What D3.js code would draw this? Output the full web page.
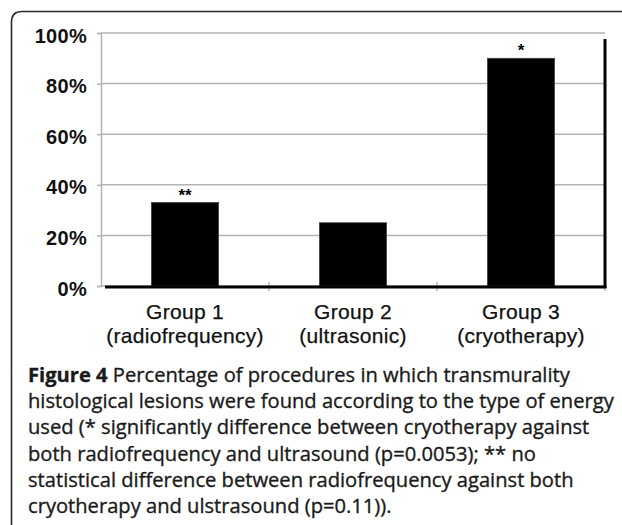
<!DOCTYPE html>
<html>
<head>
<meta charset="utf-8">
<script src="https://cdn.jsdelivr.net/npm/d3@7"></script>
<style>
  body { margin: 0; background: #fff; }
</style>
</head>
<body>
<div id="chart"></div>
<script>
// data
var groups = ["Group 1", "Group 2", "Group 3"];
var energies = ["(radiofrequency)", "(ultrasonic)", "(cryotherapy)"];
var percents = [0.33, 0.25, 0.90];
var marks = ["**", "", "*"];
var yTicks = [0, 0.2, 0.4, 0.6, 0.8, 1.0];
var captionBold = "Figure 4";
var captionLines = [
  " Percentage of procedures in which transmurality",
  "histological lesions were found according to the type of energy",
  "used (* significantly difference between cryotherapy against",
  "both radiofrequency and ultrasound (p=0.0053); ** no",
  "statistical difference between radiofrequency against both",
  "cryotherapy and ulstrasound (p=0.11))."
];

var W = 622, H = 525;
var margin = { top: 33, left: 101, right: 17, bottom: 239 };
var width = W - margin.left - margin.right;
var height = H - margin.top - margin.bottom;

var svg = d3.select("#chart").append("svg")
    .attr("width", W)
    .attr("height", H);

// outer frame, rounded top-left corner, runs off the right and bottom
svg.append("path")
    .attr("d", "M11.5," + (H + 5) + " L11.5,22 Q11.5,11.5 22,11.5 L" + (W + 5) + ",11.5")
    .attr("fill", "none")
    .attr("stroke", "#2a2a2a")
    .attr("stroke-width", 1.6);

var g = svg.append("g")
    .attr("transform", "translate(" + margin.left + "," + margin.top + ")");

var x = d3.scaleBand()
    .domain(groups)
    .range([0, width])
    .paddingInner(0.6)
    .paddingOuter(0.3);

var y = d3.scaleLinear()
    .domain([0, 1])
    .range([height, 0]);

// gridlines
g.selectAll(".grid")
    .data(yTicks)
    .enter().append("line")
    .attr("x1", 0)
    .attr("x2", width)
    .attr("y1", function (d) { return y(d); })
    .attr("y2", function (d) { return y(d); })
    .attr("stroke", "#b4b4b4")
    .attr("stroke-width", 1.5);

// y axis
var yAxis = g.append("g")
    .call(d3.axisLeft(y).tickValues(yTicks).tickFormat(d3.format(".0%")).tickSize(4).tickPadding(10));
yAxis.select(".domain").attr("stroke", "#b4b4b4").attr("stroke-width", 1.5);
yAxis.selectAll(".tick line").attr("stroke", "#b4b4b4").attr("stroke-width", 1.5);
yAxis.selectAll(".tick text")
    .attr("dy", "0.45em")
    .attr("fill", "#111")
    .style("font-family", "'Liberation Sans', Arial, sans-serif")
    .style("font-weight", "bold")
    .style("font-size", "20px")
    .style("letter-spacing", "0.3px");

// category boundary ticks
var bounds = [1, 2, 3].map(function (i) { return x.step() * i; });
g.selectAll(".btick")
    .data(bounds)
    .enter().append("line")
    .attr("x1", function (d) { return d; })
    .attr("x2", function (d) { return d; })
    .attr("y1", height - 4)
    .attr("y2", height + 5)
    .attr("stroke", "#b4b4b4")
    .attr("stroke-width", 1.5);

// bars
g.selectAll(".bar")
    .data(percents)
    .enter().append("rect")
    .attr("x", function (d, i) { return x(groups[i]); })
    .attr("y", function (d) { return y(d); })
    .attr("width", x.bandwidth())
    .attr("height", function (d) { return height - y(d); })
    .attr("fill", "#000")
    .attr("stroke", "#444")
    .attr("stroke-width", 0.8);

// thick black base and right edge
g.append("line")
    .attr("x1", 4).attr("x2", width + 1.5)
    .attr("y1", height + 1).attr("y2", height + 1)
    .attr("stroke", "#000").attr("stroke-width", 3);
g.append("line")
    .attr("x1", width).attr("x2", width)
    .attr("y1", y(0.976)).attr("y2", height + 2)
    .attr("stroke", "#000").attr("stroke-width", 3);

// significance marks
g.selectAll(".mark")
    .data(percents)
    .enter().append("text")
    .attr("x", function (d, i) { return x(groups[i]) + x.bandwidth() / 2; })
    .attr("y", function (d) { return y(d) - 2; })
    .attr("text-anchor", "middle")
    .style("font-family", "'Liberation Sans', Arial, sans-serif")
    .style("font-weight", "bold")
    .style("font-size", "17px")
    .text(function (d, i) { return marks[i]; });

// category labels
var labels = g.selectAll(".xlab")
    .data(groups)
    .enter().append("text")
    .attr("text-anchor", "middle")
    .attr("fill", "#111")
    .attr("stroke", "#111")
    .attr("stroke-width", 0.25)
    .style("font-family", "'Liberation Sans', Arial, sans-serif")
    .style("font-size", "21px")
    .style("letter-spacing", "0.3px");
labels.append("tspan")
    .attr("x", function (d) { return x(d) + x.bandwidth() / 2; })
    .attr("y", height + 33)
    .text(function (d) { return d; });
labels.append("tspan")
    .attr("x", function (d) { return x(d) + x.bandwidth() / 2; })
    .attr("y", height + 57)
    .text(function (d, i) { return energies[i]; });

// caption
var cap = svg.append("text")
    .attr("fill", "#1a1a1a")
    .attr("stroke", "#1a1a1a")
    .attr("stroke-width", 0.35)
    .style("font-family", "'Open Sans', 'Noto Sans', sans-serif")
    .style("font-size", "20px");
captionLines.forEach(function (line, i) {
  if (i === 0) {
    cap.append("tspan")
        .attr("x", 28).attr("y", 382)
        .style("font-weight", "bold")
        .text(captionBold);
    cap.append("tspan").text(line);
  } else {
    cap.append("tspan")
        .attr("x", 28).attr("y", 382 + i * 26.2)
        .text(line);
  }
});

// fit caption so the longest line spans like the original
var probe = svg.append("text")
    .style("font-family", "'Open Sans', 'Noto Sans', sans-serif")
    .style("font-size", "20px")
    .text(captionLines[1]);
var fitSize = 20 * 586 / probe.node().getComputedTextLength();
probe.remove();
cap.style("font-size", fitSize.toFixed(2) + "px");
</script>
</body>
</html>
